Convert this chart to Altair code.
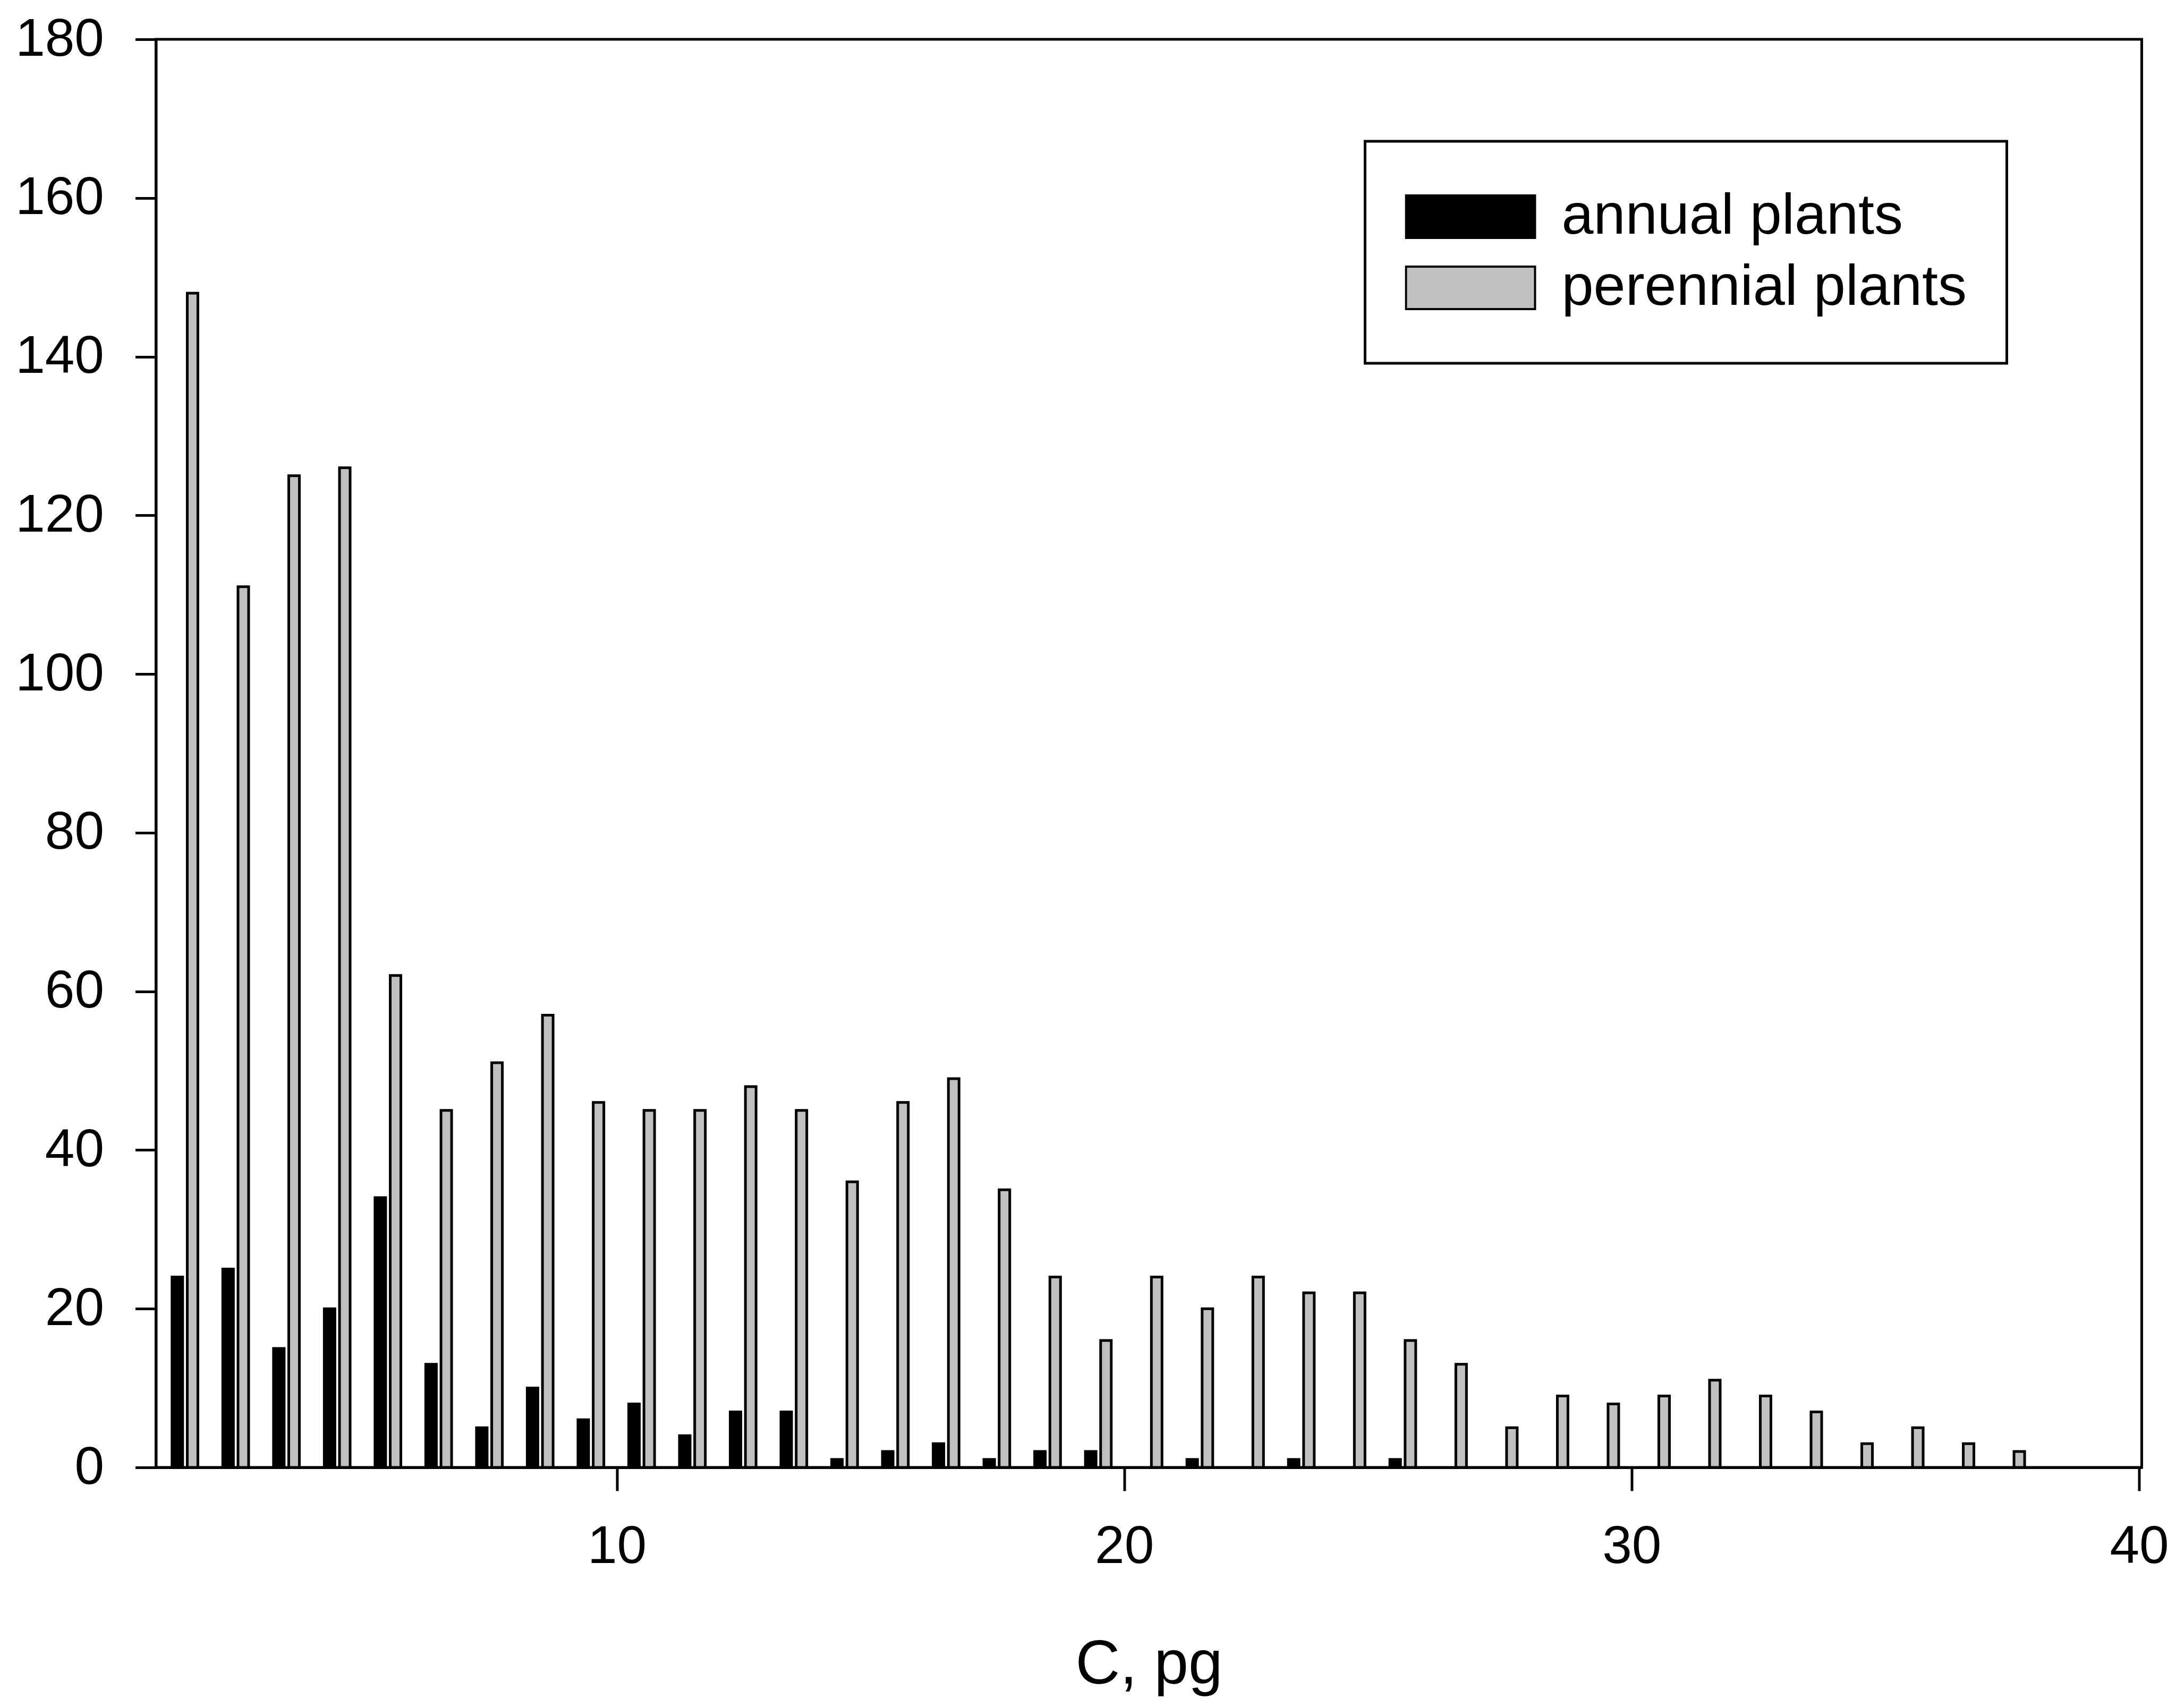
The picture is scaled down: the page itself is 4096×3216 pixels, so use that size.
import altair as alt
import pandas as pd

# ---- data ----
bins = list(range(1, 38))  # C-value classes, pg (class n covers n..n+1)
annual = [24, 25, 15, 20, 34, 13, 5, 10, 6, 8, 4, 7, 7, 1, 2, 3, 1, 2, 2, 0,
          1, 0, 1, 0, 1, 0, 0, 0, 0, 0, 0, 0, 0, 0, 0, 0, 0]
perennial = [148, 111, 125, 126, 62, 45, 51, 57, 46, 45, 45, 48, 45, 36, 46, 49,
             35, 24, 16, 24, 20, 24, 22, 22, 16, 13, 5, 9, 8, 9, 11, 9, 7, 3, 5, 3, 2]
series_names = ["annual plants", "perennial plants"]
series_colors = ["#000000", "#c0c0c0"]
x_ticks = [10, 20, 30, 40]
y_ticks = [0, 20, 40, 60, 80, 100, 120, 140, 160, 180]

# within-class placement of the two bars (style)
bar_shift = {"annual plants": 0.34, "perennial plants": 0.64}

rows = []
for name, vals in zip(series_names, [annual, perennial]):
    for b, v in zip(bins, vals):
        if v > 0:
            rows.append({"cls": b, "xpos": b + bar_shift[name], "count": v, "group": name})
df = pd.DataFrame(rows)

FONT = "Liberation Sans"

chart = (
    alt.Chart(df)
    .mark_bar(size=20, stroke="black", strokeWidth=5)
    .encode(
        x=alt.X(
            "xpos:Q",
            scale=alt.Scale(domain=[0.97, 40], nice=False, zero=False),
            axis=alt.Axis(
                title="C, pg",
                values=x_ticks,
                format="d",
                tickSize=44,
                labelPadding=56,
                labelFlush=False,
                titlePadding=115,
            ),
        ),
        y=alt.Y(
            "count:Q",
            scale=alt.Scale(domain=[0, 180], nice=False),
            axis=alt.Axis(title=None, values=y_ticks, tickSize=39, labelPadding=59),
        ),
        fill=alt.Fill(
            "group:N",
            scale=alt.Scale(domain=series_names, range=series_colors),
            legend=alt.Legend(
                title=None,
                orient="none",
                legendX=2276,
                legendY=192,
                symbolType="M-1,-0.33H1V0.33H-1Z",
                symbolSize=59049,
                symbolStrokeColor="black",
                symbolStrokeWidth=4,
                clipHeight=134,
                rowPadding=0,
                labelFont=FONT,
                labelFontSize=108,
                labelColor="black",
                labelOffset=48,
                labelLimit=0,
                padding=75,
                strokeColor="black",
                fillColor="white",
            ),
        ),
        tooltip=["cls:Q", "group:N", "count:Q"],
    )
    .properties(
        width=3738,
        height=2689,
        autosize=alt.AutoSizeParams(type="none"),
        padding={"left": 285.5, "top": 66, "right": 56.5, "bottom": 435},
    )
    .configure_view(stroke="black", strokeWidth=5)
    .configure_axis(
        grid=False,
        domainColor="black",
        domainWidth=5,
        tickColor="black",
        tickWidth=5,
        labelColor="black",
        labelFont=FONT,
        labelFontSize=100,
        titleColor="black",
        titleFont=FONT,
        titleFontSize=116,
        titleFontWeight="normal",
    )
    .configure_legend(strokeWidth=5)
)

chart.save("out.html", embed_options={"renderer": "svg", "actions": False})
